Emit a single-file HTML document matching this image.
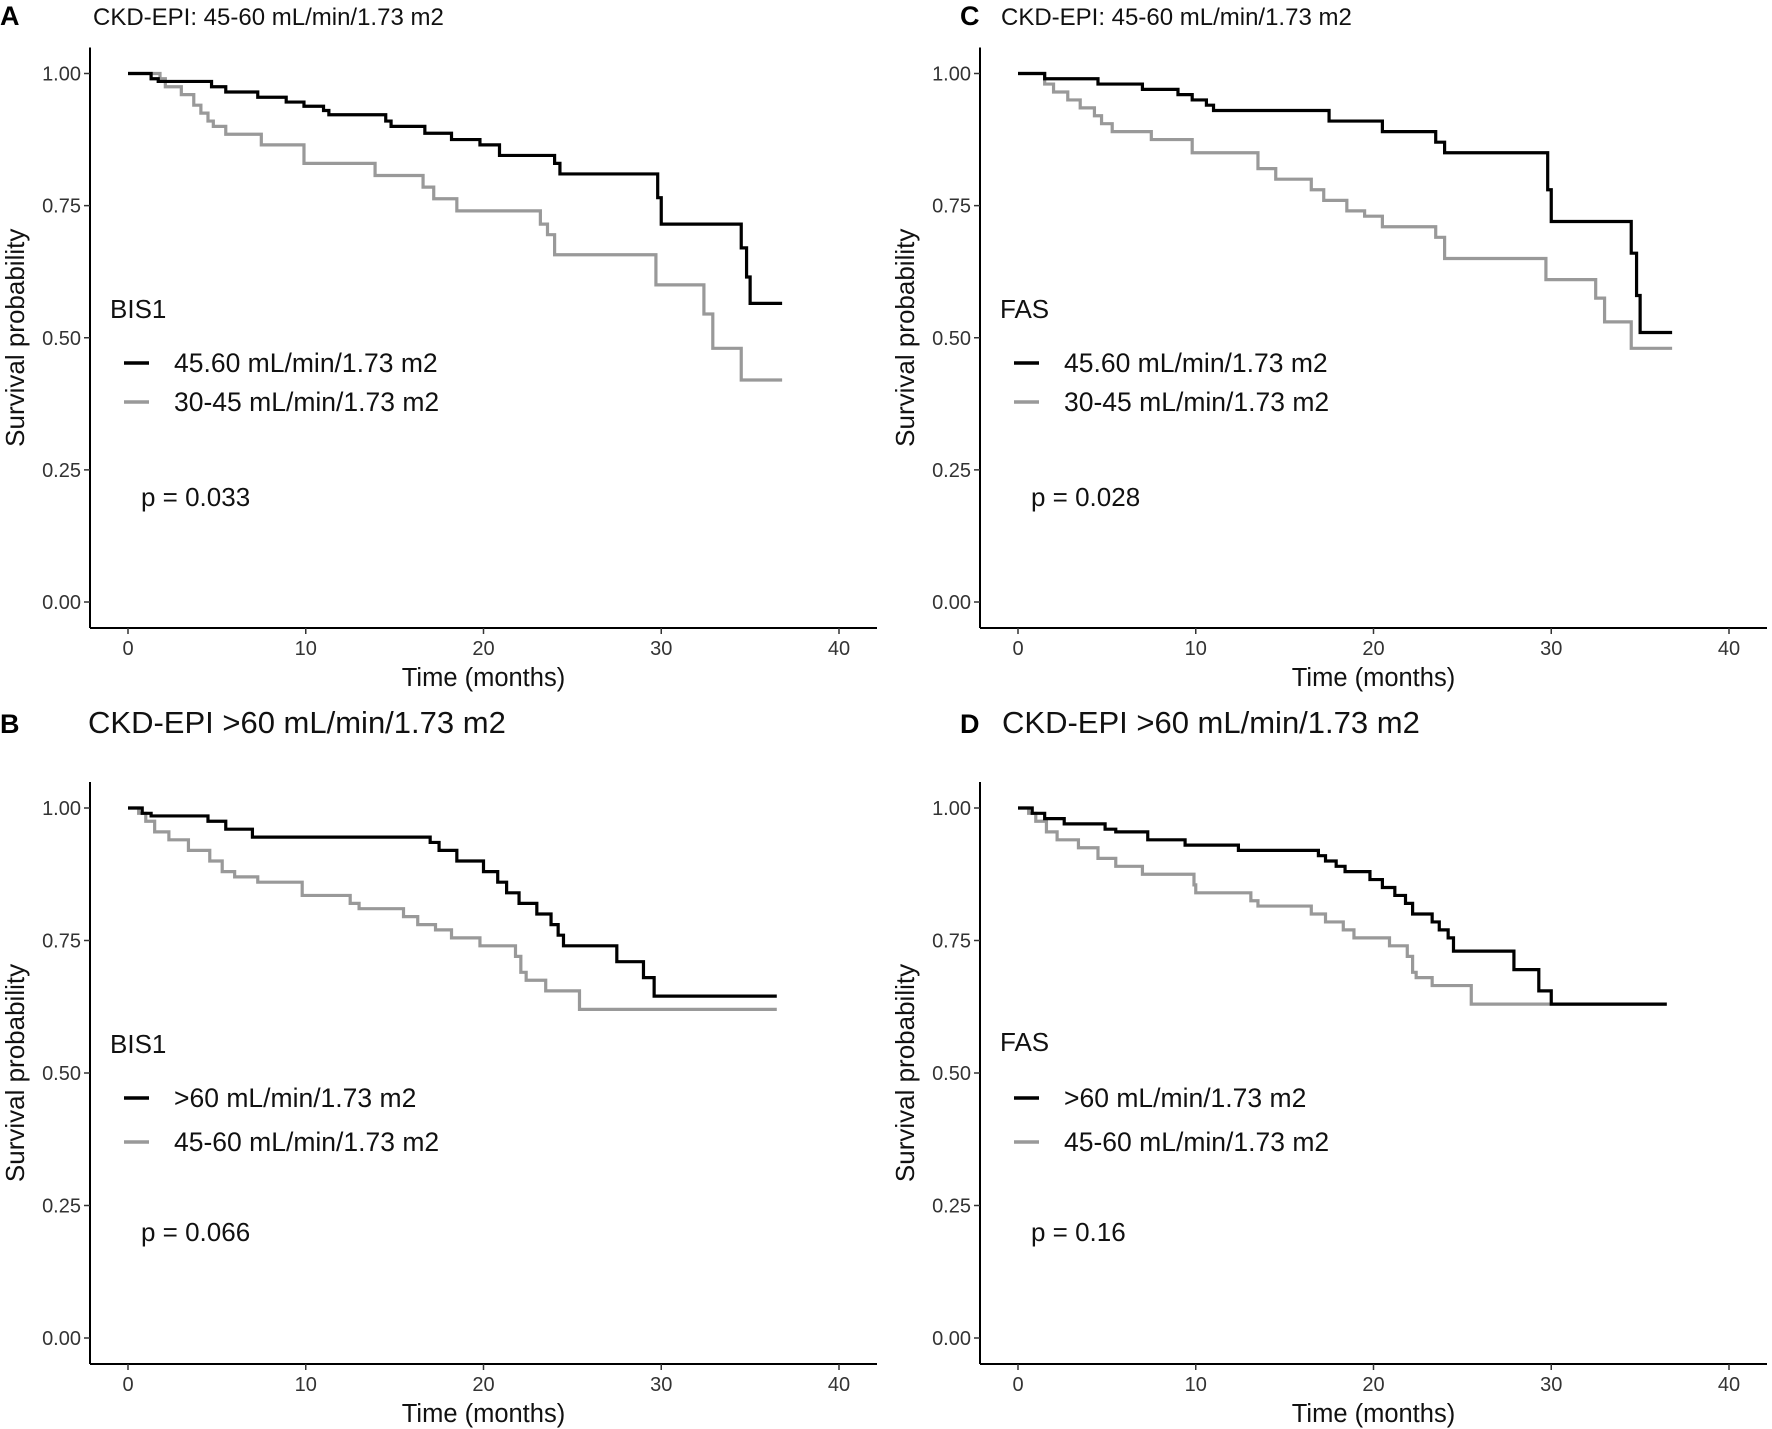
<!DOCTYPE html>
<html><head><meta charset="utf-8"><style>
body{margin:0;background:#fff}
svg{display:block;font-family:"Liberation Sans",sans-serif}
</style></head><body>
<svg id="fig" width="1772" height="1429" viewBox="0 0 1772 1429" xmlns="http://www.w3.org/2000/svg"></svg>
<script>
// Data: step times (months) and survival values
const aBlackT=[0,1.3,1.7,4.7,5.5,7.3,8.9,9.9,11,11.3,14.5,14.8,16.7,18.2,19.8,20.9,24,24.3,29.8,30,34.5,34.8,35,36.8];
const aBlackS=[1,0.99,0.985,0.975,0.965,0.955,0.946,0.938,0.93,0.922,0.91,0.9,0.887,0.875,0.865,0.845,0.83,0.81,0.765,0.715,0.67,0.615,0.565,0.565];
const aGrayT=[0,1.8,2.1,3,3.7,4.1,4.5,4.8,5.5,7.5,9.9,13.9,16.6,17.2,18.5,23.2,23.6,24,29.7,32.4,32.9,34.5,36.8];
const aGrayS=[1,0.99,0.975,0.96,0.94,0.925,0.91,0.9,0.885,0.865,0.83,0.807,0.785,0.763,0.74,0.715,0.695,0.657,0.6,0.545,0.48,0.42,0.42];
const cBlackT=[0,1.5,4.5,7,9,9.8,10.6,11,17.5,20.5,23.5,24,29.8,30,34.5,34.8,35,36.8];
const cBlackS=[1,0.99,0.98,0.97,0.96,0.95,0.94,0.93,0.91,0.89,0.87,0.85,0.78,0.72,0.66,0.58,0.51,0.51];
const cGrayT=[0,1.5,2,2.8,3.5,4.3,4.7,5.3,7.5,9.8,13.5,14.5,16.5,17.2,18.5,19.5,20.5,23.5,24,29.7,32.5,33,34.5,36.8];
const cGrayS=[1,0.98,0.965,0.95,0.935,0.92,0.905,0.89,0.875,0.85,0.82,0.8,0.78,0.76,0.74,0.73,0.71,0.69,0.65,0.61,0.575,0.53,0.48,0.48];
const bBlackT=[0,0.8,1.3,4.5,5.5,7,17,17.5,18.5,20,20.8,21.3,22,23,23.8,24.2,24.5,27.5,29,29.6,36.5];
const bBlackS=[1,0.99,0.985,0.975,0.96,0.945,0.935,0.92,0.9,0.88,0.86,0.84,0.82,0.8,0.78,0.76,0.74,0.71,0.68,0.645,0.645];
const bGrayT=[0,0.6,1,1.5,2.3,3.4,4.6,5.3,6,7.3,9.8,12.5,13,15.5,16.3,17.3,18.2,19.8,21.8,22.1,22.4,23.5,25.4,36.5];
const bGrayS=[1,0.99,0.975,0.955,0.94,0.92,0.9,0.88,0.87,0.86,0.835,0.82,0.81,0.795,0.78,0.77,0.755,0.74,0.72,0.69,0.675,0.655,0.62,0.62];
const dBlackT=[0,0.8,1.5,2.6,4.9,5.5,7.3,9.4,12.4,16.9,17.3,17.9,18.4,19.8,20.5,21.2,21.8,22.2,23.3,23.7,24.2,24.5,27.9,29.3,30,36.5];
const dBlackS=[1,0.99,0.98,0.97,0.96,0.955,0.94,0.93,0.92,0.91,0.9,0.89,0.88,0.865,0.85,0.835,0.82,0.8,0.785,0.77,0.755,0.73,0.695,0.655,0.63,0.63];
const dGrayT=[0,0.6,1,1.6,2.2,3.4,4.5,5.5,7,9.9,10,13.1,13.5,16.5,17.3,18.3,18.9,20.9,21.9,22.2,22.4,23.3,25.5,36.5];
const dGrayS=[1,0.99,0.975,0.955,0.94,0.925,0.905,0.89,0.875,0.855,0.84,0.825,0.815,0.8,0.785,0.77,0.755,0.74,0.72,0.69,0.68,0.665,0.63,0.63];
const xTicks=[0,10,20,30,40];
const yTicks=[0,0.25,0.5,0.75,1];
const yTickLabels=["0.00","0.25","0.50","0.75","1.00"];

const svg=document.getElementById('fig');
const NS="http://www.w3.org/2000/svg";
function mk(tag,attrs,parent,text){const e=document.createElementNS(NS,tag);for(const k in attrs)e.setAttribute(k,attrs[k]);if(text!==undefined)e.textContent=text;(parent||svg).appendChild(e);return e;}

function panel(p){
  const g=mk('g',{});
  
  
  const x0=p.x0,x40=p.x40,y1=p.y1,y0=p.y0;
  const sx=v=>x0+(x40-x0)*v/40;
  const sy=v=>y0+(y1-y0)*v;
  const axL=x0-38, axB=y0+26, axR=x40+38;
  const L=mk('text',{x:p.lx,y:p.ty,'font-size':27,'font-weight':'bold',fill:'#000'},g,p.id);
  
  
  const T=mk('text',{x:p.tx,y:p.ty,'font-size':p.tfs,fill:'#111'},g,p.title);
  
  
  const ya=mk('line',{x1:axL,y1:y1-26,x2:axL,y2:axB,stroke:'#000','stroke-width':2},g);
  
  
  const xa=mk('line',{x1:axL,y1:axB,x2:axR,y2:axB,stroke:'#000','stroke-width':2},g);
  
  
  yTicks.forEach((v,i)=>{
    mk('line',{x1:axL-6,y1:sy(v),x2:axL,y2:sy(v),stroke:'#333','stroke-width':1.5},g);
    const t=mk('text',{x:axL-9,y:sy(v)+7,'font-size':20,fill:'#333','text-anchor':'end'},g,yTickLabels[i]);
    
    
  });
  xTicks.forEach(v=>{
    mk('line',{x1:sx(v),y1:axB,x2:sx(v),y2:axB+6,stroke:'#333','stroke-width':1.5},g);
    const t=mk('text',{x:sx(v),y:axB+27,'font-size':20,fill:'#333','text-anchor':'middle'},g,String(v));
    
    
  });
  const xt=mk('text',{x:(axL+axR)/2,y:axB+58,'font-size':25.5,fill:'#111','text-anchor':'middle'},g,'Time (months)');
  
  
  const yc=(y0+y1)/2;
  const yt=mk('text',{x:0,y:0,'font-size':26,fill:'#111','text-anchor':'middle',transform:`translate(${axL-66},${yc}) rotate(-90)`},g,'Survival probability');
  
  
  function curve(T,S,col,name){
    let d=`M${sx(T[0])},${sy(S[0])}`;
    for(let i=1;i<T.length;i++){d+=`H${sx(T[i])}V${sy(S[i])}`;}
    const c=mk('path',{d:d,fill:'none',stroke:col,'stroke-width':3.2},g);
    
    
  }
  curve(p.gT,p.gS,'#999','survival-curve-gray');
  curve(p.bT,p.bS,'#000','survival-curve-black');
  const lx=x0-4, ly=p.legY;
  const lt=mk('text',{x:lx-14,y:ly,'font-size':26,fill:'#111'},g,p.legTitle);
  
  
  [[p.l1,'#000',p.d1],[p.l2,'#999',p.d2]].forEach(([lab,col,dy],i)=>{
    const e=mk('g',{},g);
    
    
    mk('line',{x1:lx,y1:ly+dy,x2:lx+25,y2:ly+dy,stroke:col,'stroke-width':3.5},e);
    mk('text',{x:lx+50,y:ly+dy+9,'font-size':26.5,fill:'#111'},e,lab);
  });
  const pv=mk('text',{x:x0+13,y:p.pY,'font-size':26,fill:'#111'},g,p.pval);
  
  
}

panel({id:'A',lx:0,tx:93,ty:25,tfs:24,title:'CKD-EPI: 45-60 mL/min/1.73 m2',x0:128,x40:839,y1:73.5,y0:602,
  bT:aBlackT,bS:aBlackS,gT:aGrayT,gS:aGrayS,legTitle:'BIS1',legY:318,d1:45,d2:84,
  l1:'45.60 mL/min/1.73 m2',l2:'30-45 mL/min/1.73 m2',pY:506,pval:'p = 0.033'});
panel({id:'C',lx:960,tx:1001,ty:25,tfs:24,title:'CKD-EPI: 45-60 mL/min/1.73 m2',x0:1018,x40:1729,y1:73.5,y0:602,
  bT:cBlackT,bS:cBlackS,gT:cGrayT,gS:cGrayS,legTitle:'FAS',legY:318,d1:45,d2:84,
  l1:'45.60 mL/min/1.73 m2',l2:'30-45 mL/min/1.73 m2',pY:506,pval:'p = 0.028'});
panel({id:'B',lx:0,tx:88,ty:733,tfs:31,title:'CKD-EPI >60 mL/min/1.73 m2',x0:128,x40:839,y1:808,y0:1338,
  bT:bBlackT,bS:bBlackS,gT:bGrayT,gS:bGrayS,legTitle:'BIS1',legY:1053,d1:45,d2:89,
  l1:'>60 mL/min/1.73 m2',l2:'45-60 mL/min/1.73 m2',pY:1241,pval:'p = 0.066'});
panel({id:'D',lx:960,tx:1002,ty:733,tfs:31,title:'CKD-EPI >60 mL/min/1.73 m2',x0:1018,x40:1729,y1:808,y0:1338,
  bT:dBlackT,bS:dBlackS,gT:dGrayT,gS:dGrayS,legTitle:'FAS',legY:1051,d1:47,d2:91,
  l1:'>60 mL/min/1.73 m2',l2:'45-60 mL/min/1.73 m2',pY:1241,pval:'p = 0.16'});
</script>
</body></html>
